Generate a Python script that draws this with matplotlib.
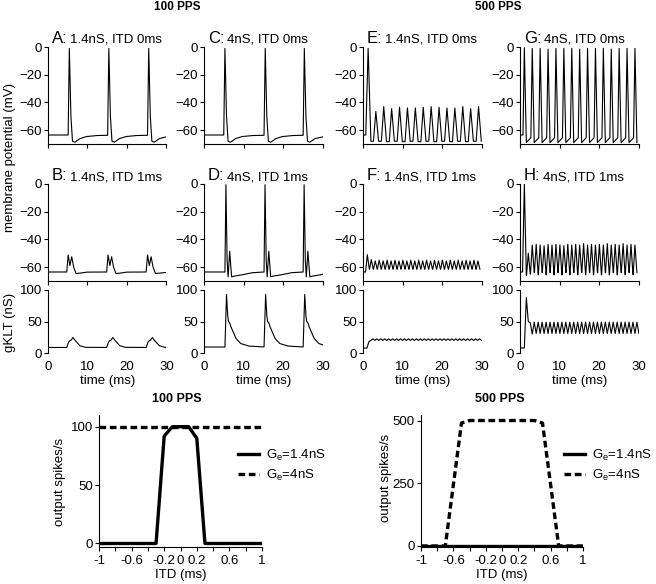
import matplotlib
matplotlib.use('Agg')
import matplotlib.pyplot as plt
import matplotlib.transforms as mtrans

plt.rcParams['font.family'] = ['Liberation Sans', 'DejaVu Sans']
plt.rcParams['mathtext.fontset'] = 'custom'
plt.rcParams['mathtext.rm'] = 'Liberation Sans'
plt.rcParams['mathtext.it'] = 'Liberation Sans:italic'

# ---------------------------------------------------------------- data
# 100 PPS membrane traces (time ms, voltage mV)
A_t = [0, 5.1, 5.4, 5.8, 6.2, 6.8, 8.1, 9.8, 12.4,
       15.1, 15.4, 15.8, 16.2, 16.8, 18.1, 19.8, 22.4,
       25.2, 25.5, 25.9, 26.3, 26.9, 28.2, 30]
A_v = [-63.5, -63.5, -1, -50, -68, -68.7, -66.1, -64.6, -63.9,
       -63.7, -1, -50, -68, -68.7, -66.1, -64.6, -63.9,
       -63.7, -1, -50, -68, -68.7, -66.1, -64.8]

C_t = [0, 5.0, 5.3, 5.7, 6.1, 6.7, 8.0, 9.7, 12.3,
       15.2, 15.5, 15.9, 16.3, 16.9, 18.2, 19.9, 22.5,
       25.1, 25.4, 25.8, 26.2, 26.8, 28.1, 30]
C_v = [-63.5, -63.5, -1, -50, -68, -68.7, -66.1, -64.6, -63.9,
       -63.7, -1, -50, -68, -68.7, -66.1, -64.6, -63.9,
       -63.7, -1, -50, -68, -68.7, -66.1, -64.9]

B_t = [0, 4.75, 5.1, 5.55, 6.0, 6.5, 7.1, 8.2, 9.8,
       14.85, 15.2, 15.65, 16.1, 16.6, 17.2, 18.3, 19.9,
       24.85, 25.2, 25.65, 26.1, 26.6, 27.2, 28.3, 30]
B_v = [-63.5, -63.5, -51.2, -58.9, -52.5, -60, -64.6, -64.3, -63.6,
       -63.5, -51.2, -58.9, -52.5, -60, -64.6, -64.3, -63.6,
       -63.5, -51.2, -58.9, -52.5, -60, -64.6, -64.3, -63.8]

D_t = [0, 5.3, 5.55, 5.85, 6.1, 6.5, 6.8, 7.0, 7.6, 9.7, 12.3,
       15.2, 15.45, 15.75, 16.0, 16.4, 16.7, 16.9, 17.5, 19.6, 22.2,
       25.1, 25.35, 25.65, 25.9, 26.3, 26.6, 26.8, 27.4, 29.5, 30]
D_v = [-63.5, -63.5, -0.5, -55, -67, -48.5, -60, -67, -66.5, -65.5, -64,
       -63.5, -0.5, -55, -67, -48.5, -60, -67, -66.5, -65.5, -64,
       -63.5, -0.5, -55, -67, -48.5, -60, -67, -66.5, -65.5, -65.2]

# 100 PPS gKLT traces (nS)
Bg_t = [0, 4.75, 5.2, 5.5, 5.8, 6.3, 7.0, 8.1, 9.5,
        14.85, 15.3, 15.6, 15.9, 16.4, 17.1, 18.2, 19.6,
        24.85, 25.3, 25.6, 25.9, 26.4, 27.1, 28.2, 29.6, 30]
Bg_v = [8.8, 8.8, 17, 19.5, 20, 24.5, 19, 11.5, 9,
        8.8, 17, 19.5, 20, 24.5, 19, 11.5, 9,
        8.8, 17, 19.5, 20, 24.5, 19, 11.5, 9, 8.8]

Dg_t = [0, 5.3, 5.7, 6.0, 6.2, 6.5, 6.8, 7.2, 8.1, 9.3, 11.4,
        15.2, 15.6, 15.9, 16.1, 16.4, 16.7, 17.1, 18.0, 19.2, 21.3,
        25.1, 25.5, 25.8, 26.0, 26.3, 26.6, 27.0, 27.9, 29.1, 30]
Dg_v = [9.5, 9.5, 93, 60, 50, 48, 42, 36, 23, 15, 11,
        9.6, 93, 60, 50, 48, 42, 36, 23, 15, 11,
        9.6, 93, 60, 50, 48, 42, 36, 23, 15, 13]

# 500 PPS membrane traces: resting value, then peak times / peak values /
# trough values (trough that follows each peak)
REST_500 = -63.5
E_peak_t = [1.3, 3.25, 5.25, 7.25, 9.25, 11.25, 13.25, 15.25, 17.25,
            19.25, 21.25, 23.25, 25.25, 27.25, 29.25]
E_peak_v = [-1, -46.5, -43, -44.5, -43.5, -44, -44, -43.5, -43,
            -43.5, -44, -44, -43, -44.5, -43]
E_trough_v = [-68, -68, -68.3, -68, -68.3, -68, -68.3, -68, -68.3,
              -68, -68.3, -68, -68.3, -68, -68]

G_peak_t = [1.1, 3.1, 5.1, 7.1, 9.1, 11.1, 13.1, 15.1, 17.1, 19.1,
            21.1, 23.1, 25.1, 27.1, 29.1]
G_peak_v = [-0.5, -1, -1, -1.5, -1, -1, -1, -1.5, -1, -1,
            -1, -1.5, -1, -1, -1]
G_trough_v = [-69] * 15
G_pre_v = [-65.5] * 15

F_peak_t = [1.1 + k for k in range(29)]
F_peak_v = [-51, -54.5, -55.5, -55, -55.5, -55, -55.5, -55, -55.5, -55,
            -55.5, -55, -55.5, -55, -55.5, -55, -55.5, -55, -55.5, -55,
            -55.5, -55, -55.5, -55, -55.5, -55, -55.5, -55, -55.5]
F_trough_v = [-61.5] * 29

H_peak_t = [1.1 + k for k in range(29)]
H_peak_v = [0, -50, -44, -43.5, -44, -44.5, -43.5, -44, -43.5, -44,
            -44.5, -43.5, -44, -43.5, -44, -43, -44, -43.5, -44, -43.5,
            -44, -43, -44, -43.5, -44, -43, -44, -43.5, -44]
H_trough_v = [-66, -65, -64, -65.5, -64, -65.5, -64, -65.5, -64, -65.5,
              -64, -65.5, -64, -65.5, -64, -65.5, -64, -65.5, -64, -65.5,
              -64, -65.5, -64, -65.5, -64, -65.5, -64, -65.5, -64]

# 500 PPS gKLT
Fg_rest = 7.8
Fg_peak_t = [1.5 + k for k in range(29)]
Fg_peak_v = [18] + [22.5] * 28
Fg_trough_v = [20] * 29

Hg_rest = 8
Hg_peak_t = [1.6 + k for k in range(29)]
Hg_peak_v = [88, 48] + [49] * 27
Hg_trough_v = [50, 30] + [31] * 27

# ITD tuning curves
ITD = [-1.0, -0.9, -0.8, -0.7, -0.6, -0.5, -0.4, -0.3, -0.2, -0.1, 0.0,
       0.1, 0.2, 0.3, 0.4, 0.5, 0.6, 0.7, 0.8, 0.9, 1.0]
rate100_14 = [0, 0, 0, 0, 0, 0, 0, 0, 92, 100, 100, 100, 90, 0, 0, 0, 0, 0, 0, 0, 0]
rate100_4 = [100] * 21
rate500_14 = [0] * 21
rate500_4 = [0, 0, 0, 0, 245, 490, 500, 500, 500, 500, 500, 500, 500, 500,
             500, 490, 245, 0, 0, 0, 0]

itd_ticks = [-1, -0.8, -0.6, -0.4, -0.2, 0, 0.2, 0.4, 0.6, 0.8, 1]
itd_ticklabels = ['-1', '', '-0.6', '', '-0.2', '0', '0.2', '', '0.6', '', '1']

panel_letters = ['A:', 'C:', 'E:', 'G:', 'B:', 'D:', 'F:', 'H:']
panel_texts = ['1.4nS, ITD 0ms', '4nS, ITD 0ms', '1.4nS, ITD 0ms', '4nS, ITD 0ms',
               '1.4nS, ITD 1ms', '4nS, ITD 1ms', '1.4nS, ITD 1ms', '4nS, ITD 1ms']


def wave(rest, peak_t, peak_v, trough_v, rise, fall, pre_v=None):
    if pre_v is None:
        pre_v = trough_v
    ts = [0, peak_t[0] - rise]
    vs = [rest, rest]
    for i, (tp, pk) in enumerate(zip(peak_t, peak_v)):
        ts += [tp, tp + fall]
        vs += [pk, trough_v[i]]
        if i + 1 < len(peak_t):
            ts.append(peak_t[i + 1] - rise)
            vs.append(pre_v[i])
    return ts, vs


# ---------------------------------------------------------------- figure
W, H = 656, 584
fig = plt.figure(figsize=(W / 100, H / 100), dpi=100)


def add_ax(left, top, right, bottom):
    return fig.add_axes([left / W, 1 - bottom / H, (right - left) / W, (bottom - top) / H])


TR = dict(color='black', lw=0.8)
cols = [48, 204, 363, 520]
wid = 118.5


def style(ax):
    for s in ['top', 'right']:
        ax.spines[s].set_visible(False)
    for s in ['left', 'bottom']:
        ax.spines[s].set_linewidth(0.8)
    ax.tick_params(direction='out', length=3, width=0.8, labelsize=9.5, pad=1.5)


traces_top = [(A_t, A_v), (C_t, C_v),
              wave(REST_500, E_peak_t, E_peak_v, E_trough_v, 0.6, 0.7),
              wave(REST_500, G_peak_t, G_peak_v, G_trough_v, 0.35, 0.5, G_pre_v)]
traces_mid = [(B_t, B_v), (D_t, D_v),
              wave(REST_500, F_peak_t, F_peak_v, F_trough_v, 0.45, 0.5),
              wave(REST_500, H_peak_t, H_peak_v, H_trough_v, 0.45, 0.5)]
traces_g = [(Bg_t, Bg_v), (Dg_t, Dg_v),
            wave(Fg_rest, Fg_peak_t, Fg_peak_v, Fg_trough_v, 0.5, 0.5),
            wave(Hg_rest, Hg_peak_t, Hg_peak_v, Hg_trough_v, 0.5, 0.5)]

for row, (top, bot, traces) in enumerate([(47, 144, traces_top), (184, 281, traces_mid)]):
    for c in range(4):
        ax = add_ax(cols[c], top, cols[c] + wid, bot)
        t, v = traces[c]
        ax.plot(t, v, **TR)
        ax.set_xlim(0, 30)
        ax.set_ylim(-70, 0)
        ax.set_yticks([0, -20, -40, -60])
        ax.set_xticks([0, 10, 20, 30])
        ax.set_xticklabels([])
        style(ax)
        lt = fig.text(cols[c] + 4, H - top + 4, panel_letters[row * 4 + c],
                      transform=mtrans.IdentityTransform(), fontsize=12,
                      ha='left', va='baseline')
        ax.annotate(panel_texts[row * 4 + c], xy=(1, 0), xycoords=lt,
                    xytext=(2, 0), textcoords='offset points',
                    fontsize=9.5, ha='left', va='bottom')

for c in range(4):
    ax = add_ax(cols[c], 290, cols[c] + wid, 353)
    t, v = traces_g[c]
    ax.plot(t, v, **TR)
    ax.set_xlim(0, 30)
    ax.set_ylim(0, 100)
    ax.set_yticks([0, 50, 100])
    ax.set_xticks([0, 10, 20, 30])
    style(ax)
    ax.spines['bottom'].set_visible(False)
    ax.tick_params(axis='x', length=0, pad=6)
    ax.set_xlabel('time (ms)', fontsize=9.5, labelpad=1.5)

fig.text(10 / W, 1 - 157 / H, 'membrane potential (mV)', rotation=90,
         ha='center', va='center', fontsize=9.5)
fig.text(10 / W, 1 - 322 / H, 'gKLT (nS)', rotation=90,
         ha='center', va='center', fontsize=9.5)
fig.text(177 / W, 1 - 7 / H, '100 PPS', fontweight='bold', fontsize=8.5,
         ha='center', va='center')
fig.text(498 / W, 1 - 7 / H, '500 PPS', fontweight='bold', fontsize=8.5,
         ha='center', va='center')

# ---------------------------------------------------------------- ITD panels
LW = 2.4
for (left, right, ylim, yt, r14, r4, title, tx, lx, ylab_x, ylab_y) in [
        (99, 262, (-3, 110), [0, 50, 100], rate100_14, rate100_4, '100 PPS', 177, 238, 60, 482),
        (421, 583, (-4, 522), [0, 250, 500], rate500_14, rate500_4, '500 PPS', 500, 564, 386, 478)]:
    ax = add_ax(left, 415, right, 547)
    ax.plot(ITD, r4, color='black', lw=LW, ls=(0, (2, 1.1)), label=r'G$_{\rm e}$=4nS', zorder=2)
    ax.plot(ITD, r14, color='black', lw=LW, ls='-', label=r'G$_{\rm e}$=1.4nS', zorder=3)
    ax.set_xlim(-1, 1)
    ax.set_ylim(*ylim)
    ax.set_yticks(yt)
    ax.set_xticks(itd_ticks)
    ax.set_xticklabels(itd_ticklabels)
    style(ax)
    ax.tick_params(axis='x', pad=3)
    ax.set_xlabel('ITD (ms)', fontsize=9.5, labelpad=1)
    fig.text(tx / W, 1 - 399 / H, title, fontweight='bold', fontsize=9,
             ha='center', va='center')
    fig.text(ylab_x / W, 1 - ylab_y / H, 'output spikes/s', rotation=90,
             ha='center', va='center', fontsize=9.5)
    h, l = ax.get_legend_handles_labels()
    ax.legend(h[::-1], l[::-1], loc='upper left', bbox_to_anchor=(lx / W, 1 - 448 / H),
              bbox_transform=fig.transFigure, frameon=False, fontsize=9.5,
              handlelength=1.6, handletextpad=0.55, labelspacing=0.35,
              borderpad=0, borderaxespad=0)

fig.savefig('out.png', dpi=100)
